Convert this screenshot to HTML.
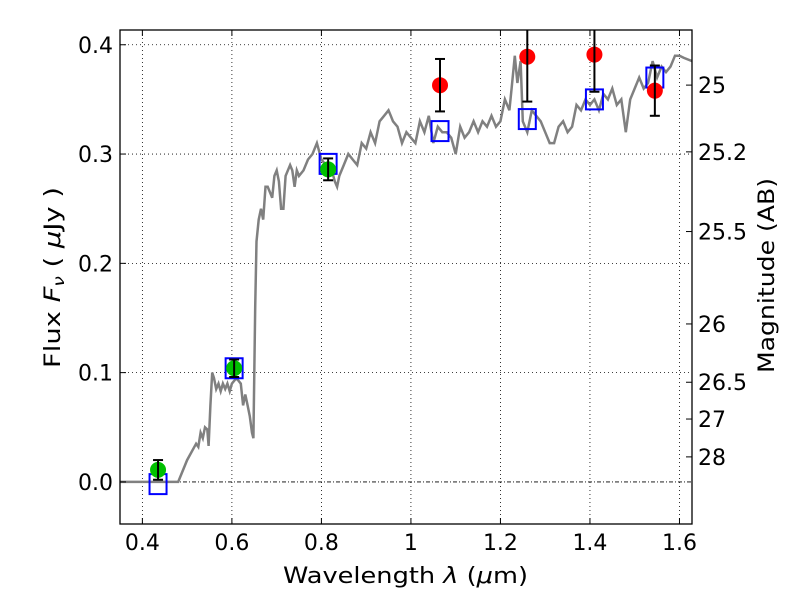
<!DOCTYPE html>
<html><head><meta charset="utf-8"><style>
body{margin:0;background:#fff;}
svg{display:block;font-family:"DejaVu Sans","Liberation Sans",sans-serif;}
</style></head><body>
<svg id="chart" width="800" height="600"></svg>
<script>
const specWave=[0.35,0.48,0.50,0.52,0.525,0.53,0.535,0.54,0.545,0.548,0.552,0.556,0.56,0.565,0.57,0.575,0.58,0.585,0.59,0.595,0.60,0.61,0.62,0.625,0.63,0.635,0.64,0.645,0.648,0.652,0.655,0.66,0.665,0.67,0.675,0.68,0.69,0.695,0.70,0.705,0.71,0.715,0.72,0.73,0.735,0.74,0.745,0.75,0.76,0.77,0.78,0.79,0.80,0.81,0.82,0.83,0.835,0.84,0.85,0.86,0.87,0.88,0.885,0.89,0.90,0.91,0.92,0.93,0.94,0.95,0.955,0.96,0.97,0.98,0.99,1.0,1.01,1.02,1.03,1.04,1.05,1.06,1.07,1.08,1.09,1.10,1.11,1.12,1.13,1.14,1.15,1.16,1.17,1.18,1.19,1.20,1.21,1.22,1.225,1.232,1.238,1.245,1.25,1.26,1.27,1.28,1.29,1.30,1.31,1.32,1.33,1.34,1.35,1.36,1.37,1.38,1.39,1.40,1.41,1.42,1.43,1.44,1.45,1.46,1.47,1.48,1.49,1.50,1.51,1.52,1.53,1.54,1.55,1.56,1.57,1.58,1.59,1.60,1.61,1.628];
const specFlux=[0.0,0.0,0.02,0.035,0.032,0.045,0.04,0.05,0.048,0.033,0.07,0.10,0.095,0.085,0.09,0.083,0.09,0.085,0.09,0.083,0.09,0.095,0.09,0.07,0.08,0.07,0.06,0.045,0.04,0.16,0.22,0.24,0.25,0.24,0.27,0.27,0.26,0.28,0.285,0.275,0.25,0.25,0.28,0.29,0.285,0.27,0.285,0.28,0.285,0.295,0.30,0.31,0.295,0.29,0.29,0.275,0.27,0.28,0.29,0.30,0.295,0.29,0.30,0.31,0.305,0.32,0.31,0.33,0.335,0.34,0.335,0.33,0.325,0.31,0.32,0.315,0.31,0.33,0.32,0.335,0.31,0.325,0.32,0.32,0.315,0.30,0.325,0.315,0.32,0.33,0.32,0.33,0.325,0.335,0.325,0.33,0.35,0.34,0.36,0.39,0.365,0.385,0.33,0.32,0.34,0.335,0.33,0.32,0.31,0.31,0.325,0.33,0.32,0.325,0.345,0.34,0.35,0.345,0.35,0.34,0.355,0.35,0.36,0.345,0.35,0.32,0.35,0.36,0.37,0.36,0.365,0.385,0.37,0.38,0.375,0.38,0.39,0.39,0.388,0.385];
const obsWave=[0.435,0.605,0.815,1.065,1.26,1.41,1.545];
const obsFlux=[0.011,0.104,0.286,0.363,0.389,0.391,0.358];
const obsErr=[0.009,0.008,0.010,0.024,0.041,0.034,0.023];
const modelFlux=[-0.002,0.104,0.291,0.321,0.332,0.350,0.370];
const obsColor=['#00c000','#00c000','#00c000','red','red','red','red'];
const xTicks=[0.4,0.6,0.8,1.0,1.2,1.4,1.6];
const xTickLabels=['0.4','0.6','0.8','1','1.2','1.4','1.6'];
const yTicks=[0.0,0.1,0.2,0.3,0.4];
const yTickLabels=['0.0','0.1','0.2','0.3','0.4'];
const magTicks=[25,25.2,25.5,26,26.5,27,28];
const magTickLabels=['25','25.2','25.5','26','26.5','27','28'];

const L=120,R=692,T=30,B=524,X0=0.35,X1=1.628,Y0=-0.0385,Y1=0.4135;
const FS=22;
const sx=v=>L+(v-X0)/(X1-X0)*(R-L);
const sy=v=>B-(v-Y0)/(Y1-Y0)*(B-T);
const NS='http://www.w3.org/2000/svg';
const svg=document.getElementById('chart');
function mk(tag,at,parent){const e=document.createElementNS(NS,tag);for(const k in at)e.setAttribute(k,at[k]);(parent||svg).appendChild(e);return e;}
const clipDef=mk('defs',{});const cp=mk('clipPath',{id:'clip'},clipDef);mk('rect',{x:L,y:T,width:R-L,height:B-T},cp);

xTicks.forEach(v=>{const g=mk('line',{x1:sx(v),x2:sx(v),y1:T,y2:B,stroke:'#000','stroke-width':0.8,'stroke-dasharray':'1,3'});

});
yTicks.forEach(v=>{if(v===0)return;const g=mk('line',{x1:L,x2:R,y1:sy(v),y2:sy(v),stroke:'#000','stroke-width':0.8,'stroke-dasharray':'1,3'});

});
const zl=mk('line',{x1:L,x2:R,y1:sy(0),y2:sy(0),stroke:'#000','stroke-width':0.8,'stroke-dasharray':'4,2,1,2'});



const pts=specWave.map((w,i)=>sx(w).toFixed(1)+','+sy(specFlux[i]).toFixed(1)).join(' ');
const sp=mk('polyline',{points:pts,fill:'none',stroke:'#808080','stroke-width':2.5,'clip-path':'url(#clip)'});



obsWave.forEach((w,i)=>{const r=mk('rect',{x:sx(w)-8.5,y:sy(modelFlux[i])-10,width:17,height:20,fill:'none',stroke:'#0000ff','stroke-width':2});

});

obsWave.forEach((w,i)=>{const c=mk('circle',{cx:sx(w),cy:sy(obsFlux[i]),r:8,fill:obsColor[i],'clip-path':'url(#clip)'});


const x=sx(w),y1=sy(obsFlux[i]-obsErr[i]),y2=sy(obsFlux[i]+obsErr[i]);
const g=mk('g',{stroke:'#000','stroke-width':2,'clip-path':'url(#clip)'});


mk('line',{x1:x,x2:x,y1:y1,y2:Math.max(y2,T-5)},g);
mk('line',{x1:x-5,x2:x+5,y1:y1,y2:y1},g);
if(y2>T)mk('line',{x1:x-5,x2:x+5,y1:y2,y2:y2},g);});

const fr=mk('rect',{x:L,y:T,width:R-L,height:B-T,fill:'none',stroke:'#000','stroke-width':1.3});



xTicks.forEach((v,i)=>{const x=sx(v);mk('line',{x1:x,x2:x,y1:B,y2:B-6,stroke:'#000'});mk('line',{x1:x,x2:x,y1:T,y2:T+6,stroke:'#000'});
const t=mk('text',{x:x,y:B+26,'font-size':FS,'text-anchor':'middle'});t.textContent=xTickLabels[i];

});
yTicks.forEach((v,i)=>{const y=sy(v);mk('line',{x1:L,x2:L+6,y1:y,y2:y,stroke:'#000'});
const t=mk('text',{x:L-7,y:y+8,'font-size':FS,'text-anchor':'end'});t.textContent=yTickLabels[i];

});
magTicks.forEach((m,i)=>{const y=sy(Math.pow(10,(23.9-m)/2.5));mk('line',{x1:R,x2:R-6,y1:y,y2:y,stroke:'#000'});
const t=mk('text',{x:R+6,y:y+8,'font-size':FS});t.textContent=magTickLabels[i];

});
</script>
<svg style="position:absolute;left:0;top:0" width="800" height="600">
<text x="283" y="583" font-size="22" textLength="245" lengthAdjust="spacingAndGlyphs" font-family="DejaVu Sans,sans-serif">Wavelength  <tspan font-style="italic">λ</tspan> (<tspan font-style="italic">μ</tspan>m)</text>
<text transform="translate(60,368) rotate(-90)" font-size="22" textLength="181" lengthAdjust="spacingAndGlyphs" font-family="DejaVu Sans,sans-serif">Flux  <tspan font-style="italic">F<tspan font-size="15" dy="4">ν</tspan></tspan><tspan dy="-4">  (  </tspan><tspan font-style="italic">μ</tspan>Jy )</text>
<text transform="translate(774,373) rotate(-90)" font-size="22" textLength="195" lengthAdjust="spacingAndGlyphs" font-family="DejaVu Sans,sans-serif">Magnitude (AB)</text>
</svg>
</body></html>
